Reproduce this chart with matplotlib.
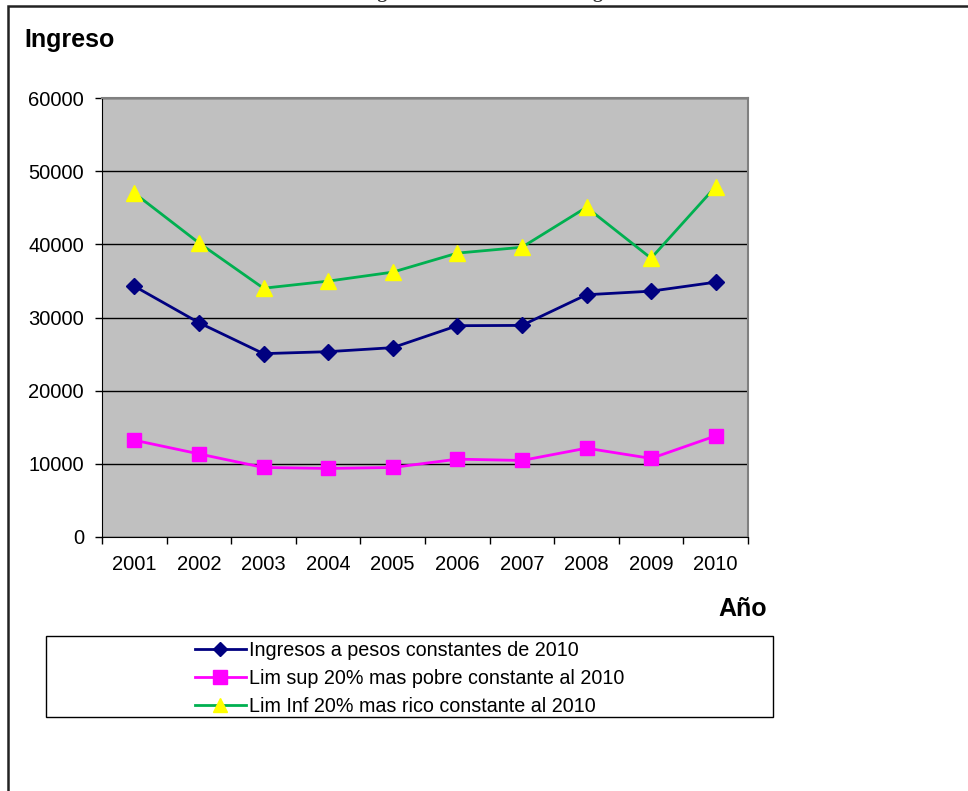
import matplotlib
matplotlib.use("Agg")
from matplotlib import pyplot as plt
from matplotlib.patches import Rectangle

# data
years = ['2001', '2002', '2003', '2004', '2005', '2006', '2007', '2008', '2009', '2010']
ingresos = [34280, 29290, 25060, 25330, 25880, 28880, 28920, 33110, 33600, 34830]
lim_sup_pobre = [13230, 11360, 9500, 9370, 9500, 10640, 10460, 12140, 10740, 13820]
lim_inf_rico = [47000, 40200, 34000, 34970, 36200, 38800, 39600, 45060, 38100, 47900]
labels = ['Ingresos a pesos constantes de 2010',
          'Lim sup 20% mas pobre constante al 2010',
          'Lim Inf 20% mas rico constante al 2010']

plt.rcParams['font.family'] = ['Liberation Sans', 'DejaVu Sans']

W, H = 968, 791
fig = plt.figure(figsize=(W / 100, H / 100), dpi=100)
ax = fig.add_axes([102 / W, 1 - 537 / H, 646 / W, 439 / H])
ax.set_facecolor('#C0C0C0')

x = range(len(years))
l1, = ax.plot(x, ingresos, color='#000080', lw=2, marker='D', ms=8, zorder=3)
l2, = ax.plot(x, lim_sup_pobre, color='#FF00FF', lw=2, marker='s', ms=10.5, zorder=3)
l3, = ax.plot(x, lim_inf_rico, color='#00B050', lw=2, marker='^', ms=11,
              markerfacecolor='#FFFF00', markeredgecolor='#FFFF00', zorder=3)

ax.set_xlim(-0.5, len(years) - 0.5)
ax.set_ylim(0, 60000)
ax.set_yticks(range(0, 60001, 10000))
ax.yaxis.grid(True, color='black', lw=1)
ax.set_axisbelow(True)

# category ticks at boundaries, labels at centers
ax.set_xticks([i - 0.5 for i in range(len(years) + 1)])
ax.set_xticklabels([])
ax.set_xticks(list(x), minor=True)
ax.set_xticklabels(years, minor=True)
ax.tick_params(axis='x', which='major', direction='out', length=5, width=1)
ax.tick_params(axis='x', which='minor', length=0, pad=13, labelsize=14.5)
ax.tick_params(axis='y', direction='out', length=5, width=1, pad=8, labelsize=14.5)

for s in ['left', 'bottom']:
    ax.spines[s].set_color('black')
for s in ['top', 'right']:
    ax.spines[s].set_color('#808080')
    ax.spines[s].set_linewidth(1.5)

fig.text(24 / W, 1 - 40 / H, 'Ingreso', fontsize=18, fontweight='bold', va='center', ha='left')
fig.text(767 / W, 1 - 609 / H, 'Año', fontsize=18, fontweight='bold', va='center', ha='right')

# title, cut off at the top of the picture as in the original
fig.text(0.515, 1 + 2.5 / H, 'Ingreso Constante de los Hogares', fontsize=14, fontweight='bold',
         family='Liberation Serif', ha='center', va='baseline', color='#333333')

# outer chart frame
fig.add_artist(Rectangle((8 / W, -0.1), 1.2, 1.1 - 6 / H, transform=fig.transFigure,
                         fill=False, ec='#222222', lw=1.8))

# legend box
fig.add_artist(Rectangle((46 / W, 1 - 717 / H), 727 / W, 81 / H, transform=fig.transFigure,
                         fill=False, ec='black', lw=1))
fig.legend([l1, l2, l3], labels, loc='center', frameon=False, fontsize=14.2,
           bbox_to_anchor=((46 + 727 / 2) / W, 1 - 678.5 / H), handlelength=2.6,
           handletextpad=0.15, labelspacing=0.45, markerscale=0.9)

fig.savefig('out.png', dpi=100)
